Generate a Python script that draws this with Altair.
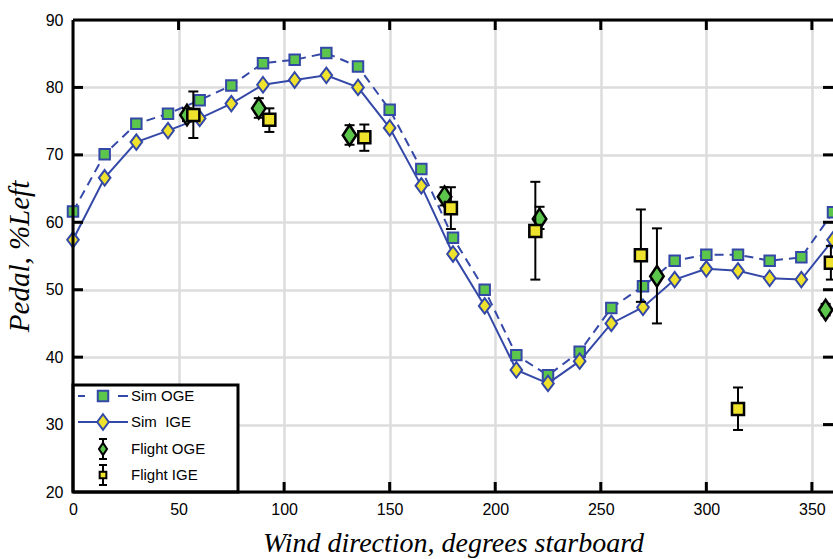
import altair as alt
import pandas as pd

# ---------------- data ----------------
sim_dir = list(range(0, 361, 15))
sim_oge = [61.6, 70.1, 74.6, 76.1, 78.1, 80.3, 83.6, 84.1, 85.1, 83.1, 76.7, 67.9, 57.7,
           50.0, 40.3, 37.3, 40.8, 47.3, 50.5, 54.3, 55.2, 55.2, 54.3, 54.8, 61.5]
sim_ige = [57.4, 66.6, 71.9, 73.6, 75.4, 77.6, 80.4, 81.1, 81.8, 80.0, 74.0, 65.4, 55.3,
           47.6, 38.1, 36.1, 39.4, 45.0, 47.4, 51.5, 53.1, 52.8, 51.7, 51.5, 57.4]

fog_dir = [54, 88, 131, 176, 221, 276.6, 356.5]
fog_val = [75.9, 76.9, 72.9, 63.8, 60.5, 52.0, 47.0]
fog_lo = [75.0, 75.5, 71.5, 62.5, 59.0, 45.0, 46.2]
fog_hi = [76.9, 78.4, 74.4, 65.2, 62.3, 59.1, 47.9]

fig_dir = [57, 93, 138, 179, 219, 269, 315, 359]
fig_val = [75.9, 75.2, 72.6, 62.1, 58.7, 55.1, 32.3, 54.0]
fig_lo = [72.5, 73.4, 70.6, 59.0, 51.5, 48.2, 29.2, 51.5]
fig_hi = [79.4, 76.9, 74.5, 65.2, 66.0, 61.9, 35.5, 56.5]

x_ticks = [0, 50, 100, 150, 200, 250, 300, 350]
y_ticks = [20, 30, 40, 50, 60, 70, 80, 90]
legend_labels = ["Sim OGE", "Sim\u00a0 IGE", "Flight OGE", "Flight IGE"]

x_title = "Wind direction, degrees starboard"
y_title = "Pedal, %Left"

# ---------------- styles ----------------
W, H = 760, 472
BLUE = "#3448a8"
GREEN = "#5cc64c"
YELLOW = "#efe22c"
GRID = "#dcdcdc"
DIAM = "M0,-1L0.75,0L0,1L-0.75,0Z"
FDIAM = "M0,-1L0.66,0L0,1L-0.66,0Z"

xs = alt.Scale(domain=[0, 360], nice=False, zero=False)
ys = alt.Scale(domain=[20, 90], nice=False, zero=False)

xaxis = alt.Axis(values=x_ticks, title=x_title, grid=True, gridColor=GRID, gridWidth=2.5,
                 domain=False, ticks=False, labelFont="Liberation Sans", labelFontSize=16,
                 labelColor="black", labelPadding=9, labelFlush=False, labelOverlap=False,
                 titleFont="Liberation Serif", titleFontStyle="italic", titleFontWeight="normal",
                 titleFontSize=28, titleColor="black", titlePadding=12)
yaxis = alt.Axis(values=y_ticks, title=y_title, grid=True, gridColor=GRID, gridWidth=2.5,
                 domain=False, ticks=False, labelFont="Liberation Sans", labelFontSize=16,
                 labelColor="black", labelPadding=10, labelFlush=False, labelOverlap=False,
                 titleFont="Liberation Serif", titleFontStyle="italic", titleFontWeight="normal",
                 titleFontSize=29, titleColor="black", titlePadding=11)

sim = pd.DataFrame({"dir": sim_dir, "oge": sim_oge, "ige": sim_ige})
fog = pd.DataFrame({"dir": fog_dir, "val": fog_val, "lo": fog_lo, "hi": fog_hi})
fig = pd.DataFrame({"dir": fig_dir, "val": fig_val, "lo": fig_lo, "hi": fig_hi})
one = pd.DataFrame({"a": [0]})


def X(f):
    return alt.X(f, type="quantitative", scale=xs, axis=xaxis)


def Y(f):
    return alt.Y(f, type="quantitative", scale=ys, axis=yaxis)


layers = []
layers.append(alt.Chart(sim).mark_line(color=BLUE, strokeWidth=2, strokeDash=[9, 6]).encode(
    x=X("dir"), y=Y("oge")))
layers.append(alt.Chart(sim).mark_point(shape="square", size=110, filled=True, fill=GREEN,
                                        stroke=BLUE, strokeWidth=2, opacity=1).encode(
    x=X("dir"), y=Y("oge")))
layers.append(alt.Chart(sim).mark_line(color=BLUE, strokeWidth=2).encode(
    x=X("dir"), y=Y("ige")))
layers.append(alt.Chart(sim).mark_point(shape=DIAM, size=240, filled=True, fill=YELLOW,
                                        stroke=BLUE, strokeWidth=2, opacity=1).encode(
    x=X("dir"), y=Y("ige")))


def flight(df, shape, size, fill):
    out = []
    out.append(alt.Chart(df).mark_rule(color="black", strokeWidth=2).encode(
        x=X("dir"), y=Y("lo"), y2="hi"))
    for f in ("lo", "hi"):
        out.append(alt.Chart(df).mark_tick(orient="horizontal", size=10, thickness=2,
                                           color="black", opacity=1).encode(
            x=X("dir"), y=Y(f)))
    out.append(alt.Chart(df).mark_point(shape=shape, size=size, filled=True, fill=fill,
                                        stroke="black", strokeWidth=2.5, opacity=1).encode(
        x=X("dir"), y=Y("val")))
    return out


layers += flight(fog, FDIAM, 420, GREEN)
layers += flight(fig, "square", 145, YELLOW)

# inward tick marks on all four sides
yin = pd.DataFrame({"v": y_ticks[1:-1]})
xin = pd.DataFrame({"v": x_ticks[1:]})
layers.append(alt.Chart(yin).mark_rule(color="black", strokeWidth=3).encode(
    y=Y("v"), x=alt.value(0), x2=alt.value(10)))
layers.append(alt.Chart(yin).mark_rule(color="black", strokeWidth=3).encode(
    y=Y("v"), x=alt.value(W - 10), x2=alt.value(W)))
layers.append(alt.Chart(xin).mark_rule(color="black", strokeWidth=3).encode(
    x=X("v"), y=alt.value(0), y2=alt.value(10)))
layers.append(alt.Chart(xin).mark_rule(color="black", strokeWidth=3).encode(
    x=X("v"), y=alt.value(H - 10), y2=alt.value(H)))

# ---------------- legend ----------------
LX0, LX1, LY0 = 0, 165, 365
layers.append(alt.Chart(one).mark_rect(fill="white", stroke="black", strokeWidth=3).encode(
    x=alt.value(LX0), x2=alt.value(LX1), y=alt.value(LY0), y2=alt.value(H)))
rows = [376, 402, 429, 455]
SX = 30
layers.append(alt.Chart(one).mark_rule(color=BLUE, strokeWidth=2).encode(
    x=alt.value(5), x2=alt.value(12), y=alt.value(rows[0])))
layers.append(alt.Chart(one).mark_rule(color=BLUE, strokeWidth=2).encode(
    x=alt.value(45), x2=alt.value(55), y=alt.value(rows[0])))
layers.append(alt.Chart(one).mark_point(shape="square", size=110, filled=True, fill=GREEN,
                                        stroke=BLUE, strokeWidth=2, opacity=1).encode(
    x=alt.value(SX), y=alt.value(rows[0])))
layers.append(alt.Chart(one).mark_rule(color=BLUE, strokeWidth=2).encode(
    x=alt.value(5), x2=alt.value(55), y=alt.value(rows[1])))
layers.append(alt.Chart(one).mark_point(shape=DIAM, size=240, filled=True, fill=YELLOW,
                                        stroke=BLUE, strokeWidth=2, opacity=1).encode(
    x=alt.value(SX), y=alt.value(rows[1])))
for r, shape, size, fill in [(rows[2], FDIAM, 150, GREEN), (rows[3], "square", 45, YELLOW)]:
    layers.append(alt.Chart(one).mark_rule(color="black", strokeWidth=2).encode(
        x=alt.value(SX), y=alt.value(r - 10), y2=alt.value(r + 10)))
    for dy in (-10, 10):
        layers.append(alt.Chart(one).mark_rule(color="black", strokeWidth=2).encode(
            x=alt.value(SX - 4), x2=alt.value(SX + 4), y=alt.value(r + dy)))
    layers.append(alt.Chart(one).mark_point(shape=shape, size=size, filled=True, fill=fill,
                                            stroke="black", strokeWidth=2, opacity=1).encode(
        x=alt.value(SX), y=alt.value(r)))
for lab, r in zip(legend_labels, rows):
    layers.append(alt.Chart(one).mark_text(text=lab, align="left", baseline="middle",
                                           font="Liberation Sans", fontSize=15,
                                           color="black").encode(
        x=alt.value(58), y=alt.value(r)))

# frame (left, top, bottom)
layers.append(alt.Chart(one).mark_rule(color="black", strokeWidth=3).encode(
    x=alt.value(0), y=alt.value(0), y2=alt.value(H)))
layers.append(alt.Chart(one).mark_rule(color="black", strokeWidth=3).encode(
    x=alt.value(0), x2=alt.value(W), y=alt.value(0)))
layers.append(alt.Chart(one).mark_rule(color="black", strokeWidth=3).encode(
    x=alt.value(0), x2=alt.value(W), y=alt.value(H)))

chart = alt.layer(*layers).properties(
    width=W, height=H,
    autosize=alt.AutoSizeParams(type="none"),
    padding={"left": 73, "top": 20, "right": 0, "bottom": 67},
    background="white",
).configure_view(stroke=None)

chart.save("out.html", embed_options={"renderer": "svg", "actions": False})
